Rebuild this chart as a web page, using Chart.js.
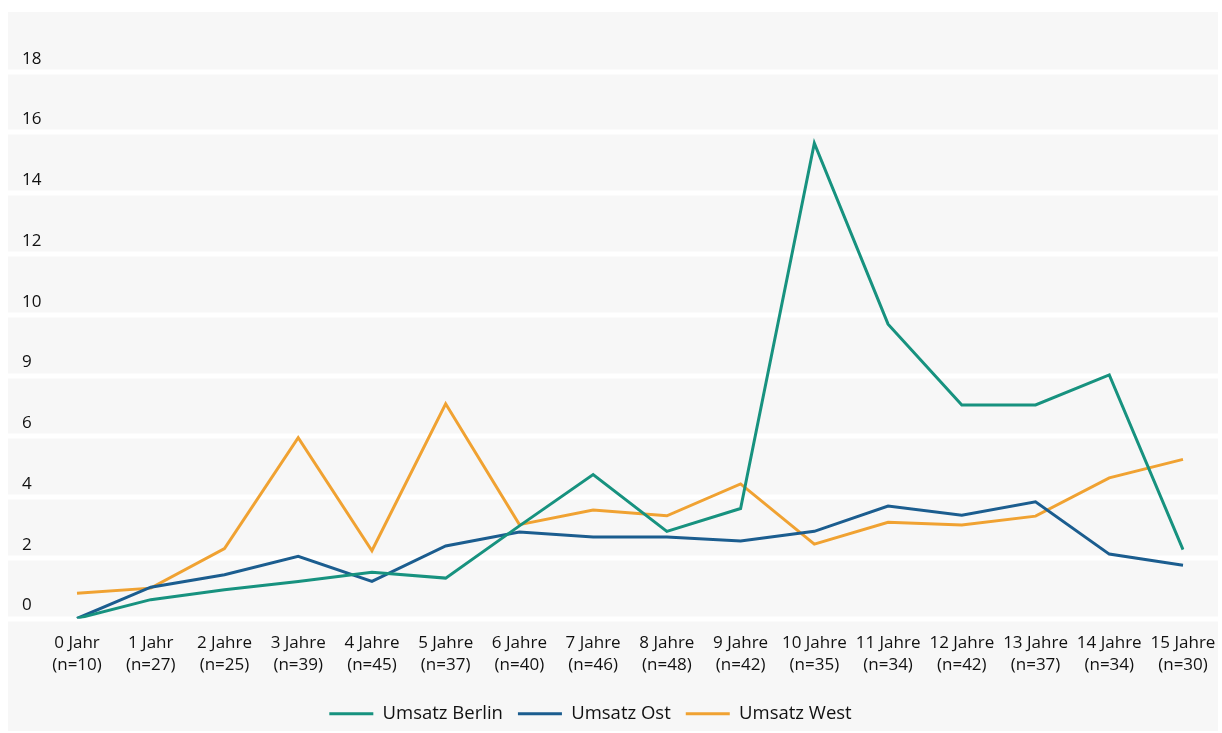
<!DOCTYPE html>
<html>
<head>
<meta charset="utf-8">
<script src="https://cdn.jsdelivr.net/npm/chart.js@4.4.1/dist/chart.umd.min.js"></script>
<style>
  html, body { margin: 0; padding: 0; background: #ffffff; }
  #wrap { position: relative; width: 1222px; height: 733px; }
</style>
</head>
<body>
<div id="wrap"><canvas id="c" width="1222" height="733"></canvas></div>
<script>
// ---- Data ----
const categories = [
  ['0 Jahr', '(n=10)'], ['1 Jahr', '(n=27)'], ['2 Jahre', '(n=25)'], ['3 Jahre', '(n=39)'],
  ['4 Jahre', '(n=45)'], ['5 Jahre', '(n=37)'], ['6 Jahre', '(n=40)'], ['7 Jahre', '(n=46)'],
  ['8 Jahre', '(n=48)'], ['9 Jahre', '(n=42)'], ['10 Jahre', '(n=35)'], ['11 Jahre', '(n=34)'],
  ['12 Jahre', '(n=42)'], ['13 Jahre', '(n=37)'], ['14 Jahre', '(n=34)'], ['15 Jahre', '(n=30)']
];
const umsatzBerlin = [0, 0.62, 0.95, 1.22, 1.52, 1.33, 3.05, 4.74, 2.87, 3.62, 15.65, 9.69, 7.03, 7.03, 8.02, 2.27];
const umsatzOst    = [0, 1.03, 1.44, 2.05, 1.22, 2.39, 2.85, 2.68, 2.68, 2.55, 2.87, 3.70, 3.40, 3.84, 2.12, 1.75];
const umsatzWest   = [0.83, 1.0, 2.30, 5.95, 2.23, 7.07, 3.09, 3.57, 3.38, 4.43, 2.45, 3.17, 3.08, 3.37, 4.63, 5.24];
const tickValues = [0, 2, 4, 6, 8, 10, 12, 14, 16, 18];
const tickLabels = ['0', '2', '4', '6', '9', '10', '12', '14', '16', '18'];
const seriesNames = ['Umsatz Berlin', 'Umsatz Ost', 'Umsatz West'];

const colors = { berlin: '#17927f', ost: '#1b5d8f', west: '#f0a232' };
const FONT = "'Open Sans', 'Noto Sans', sans-serif";
const TEXT = '#111111';

const bgPlugin = {
  id: 'bgGrid',
  beforeDraw(chart) {
    const ctx = chart.ctx;
    const y = chart.scales.y;
    ctx.save();
    ctx.fillStyle = '#f7f7f7';
    ctx.fillRect(8, 12, 1210, 719);
    ctx.strokeStyle = '#ffffff';
    ctx.lineWidth = 5;
    tickValues.forEach(v => {
      const py = Math.round(y.getPixelForValue(v));
      ctx.beginPath();
      ctx.moveTo(8, py);
      ctx.lineTo(1218, py);
      ctx.stroke();
    });
    ctx.restore();
  }
};

// shift the legend block slightly left, as in the reference
const legendShift = {
  id: 'legendShift',
  afterUpdate(chart) {
    if (chart.legend) { chart.legend.left -= 12; chart.legend.right -= 12; }
  }
};

new Chart(document.getElementById('c'), {
  type: 'line',
  data: {
    labels: categories,
    datasets: [
      { label: seriesNames[0], data: umsatzBerlin, borderColor: colors.berlin, backgroundColor: colors.berlin, borderWidth: 3 },
      { label: seriesNames[1], data: umsatzOst, borderColor: colors.ost, backgroundColor: colors.ost, borderWidth: 3 },
      { label: seriesNames[2], data: umsatzWest, borderColor: colors.west, backgroundColor: colors.west, borderWidth: 3 }
    ]
  },
  options: {
    responsive: false,
    animation: false,
    devicePixelRatio: 1,
    layout: { padding: { left: 22, right: 39, top: 11, bottom: 0 } },
    elements: {
      line: { borderWidth: 3, tension: 0, borderJoinStyle: 'miter', borderCapStyle: 'butt' },
      point: { radius: 0, hoverRadius: 0 }
    },
    scales: {
      x: {
        type: 'category',
        offset: false,
        grid: { display: false, drawTicks: false },
        border: { display: false },
        ticks: {
          autoSkip: false, maxRotation: 0, minRotation: 0, padding: 14,
          color: TEXT, font: { family: FONT, size: 17, lineHeight: 1.3 }
        },
        afterFit(s) { s.height = 71; s.paddingLeft = 0; s.paddingRight = 0; }
      },
      y: {
        min: 0, max: 20,
        grid: { display: false, drawTicks: false },
        border: { display: false },
        afterBuildTicks(s) { s.ticks = tickValues.map(v => ({ value: v })); },
        afterFit(s) { s.width = 55; s.paddingTop = 0; s.paddingBottom = 0; },
        ticks: {
          crossAlign: 'far',
          labelOffset: -13,
          padding: 0,
          color: TEXT,
          font: { family: FONT, size: 17 },
          callback(value) { const i = tickValues.indexOf(value); return i >= 0 ? tickLabels[i] : ''; }
        }
      }
    },
    plugins: {
      legend: {
        position: 'bottom',
        labels: {
          usePointStyle: true, pointStyle: 'line', pointStyleWidth: 44,
          padding: 15, color: TEXT, font: { family: FONT, size: 18.5 }
        }
      },
      tooltip: { enabled: false }
    }
  },
  plugins: [bgPlugin, legendShift]
});
</script>
</body>
</html>
